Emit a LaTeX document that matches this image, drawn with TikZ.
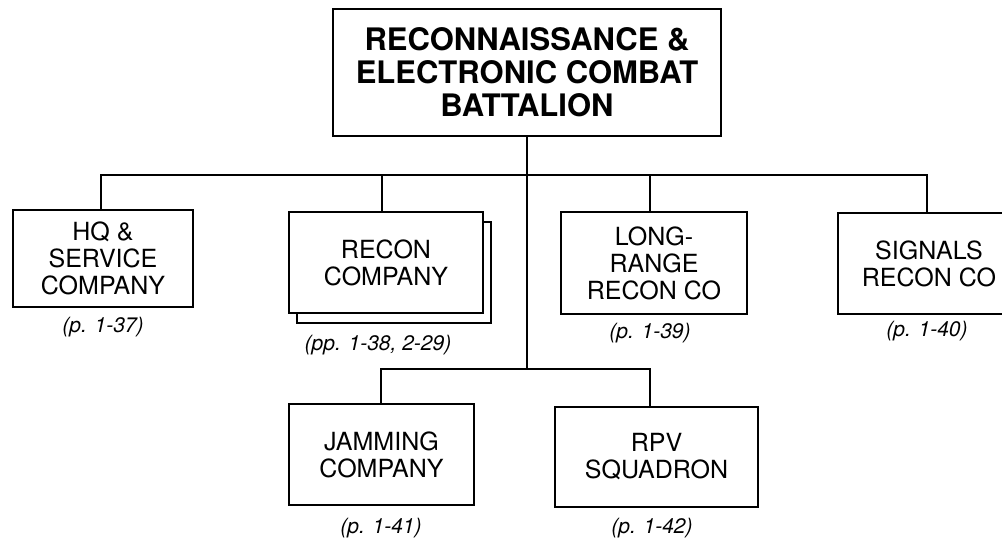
\documentclass[tikz,border=0pt]{standalone}
\usepackage{fontspec}
\setmainfont{TeX Gyre Heros}
\begin{document}
\begin{tikzpicture}[x=1pt,y=-1pt,
  line width=2pt,
  unitbox/.style={draw, fill=white, rectangle, inner sep=0pt, align=center,
    font=\fontsize{25}{27}\selectfont},
  topbox/.style={draw, fill=white, rectangle, inner sep=0pt, align=center,
    font=\fontsize{31}{33}\selectfont\bfseries},
  pageref/.style={inner sep=0pt, font=\fontsize{21}{23}\selectfont\itshape}]
\useasboundingbox (0,0) rectangle (1002,541);
% top
\node[topbox, minimum width=388pt, minimum height=127pt] (top) at (527,72.5)
  {RECONNAISSANCE \&\\ELECTRONIC COMBAT\\BATTALION};
% first row
\node[unitbox, minimum width=180pt, minimum height=97pt] (hq) at (103,258.5)
  {HQ \&\\SERVICE\\COMPANY};
\node[unitbox, minimum width=194pt, minimum height=101pt] (recback) at (394,272.5) {};
\node[unitbox, minimum width=194pt, minimum height=101pt] (rec) at (386,262.5)
  {RECON\\COMPANY};
\node[unitbox, minimum width=186pt, minimum height=102pt] (lr) at (654,263)
  {LONG-\\RANGE\\RECON CO};
\node[unitbox, minimum width=182pt, minimum height=101pt] (sig) at (929,263.5)
  {SIGNALS\\RECON CO};
% second row
\node[unitbox, minimum width=185pt, minimum height=101pt] (jam) at (381.5,454.5)
  {JAMMING\\COMPANY};
\node[unitbox, minimum width=203pt, minimum height=100pt] (rpv) at (656.5,457)
  {RPV\\SQUADRON};
% page references
\node[pageref] (hqp) at (103,327) {(p. 1-37)};
\node[pageref] (recp) at (378,345) {(pp. 1-38, 2-29)};
\node[pageref] (lrp) at (650,333) {(p. 1-39)};
\node[pageref] (sigp) at (927,331) {(p. 1-40)};
\node[pageref] (jamp) at (381,528) {(p. 1-41)};
\node[pageref] (rpvp) at (652,528) {(p. 1-42)};
% connectors
\coordinate (bar1) at (527,175);
\coordinate (bar2) at (527,369);
\draw (top.south) -- (top.south |- bar2);
\draw ([xshift=-2pt]hq.north) |- ([xshift=-2pt]sig.north |- bar1) -- ([xshift=-2pt]sig.north);
\draw ([xshift=-4pt]rec.north) -- ([xshift=-4pt]rec.north |- bar1);
\draw ([xshift=-4pt]lr.north) -- ([xshift=-4pt]lr.north |- bar1);
\draw ([xshift=-0.5pt]jam.north) |- ([xshift=-6.5pt]rpv.north |- bar2) -- ([xshift=-6.5pt]rpv.north);
\end{tikzpicture}
\end{document}
